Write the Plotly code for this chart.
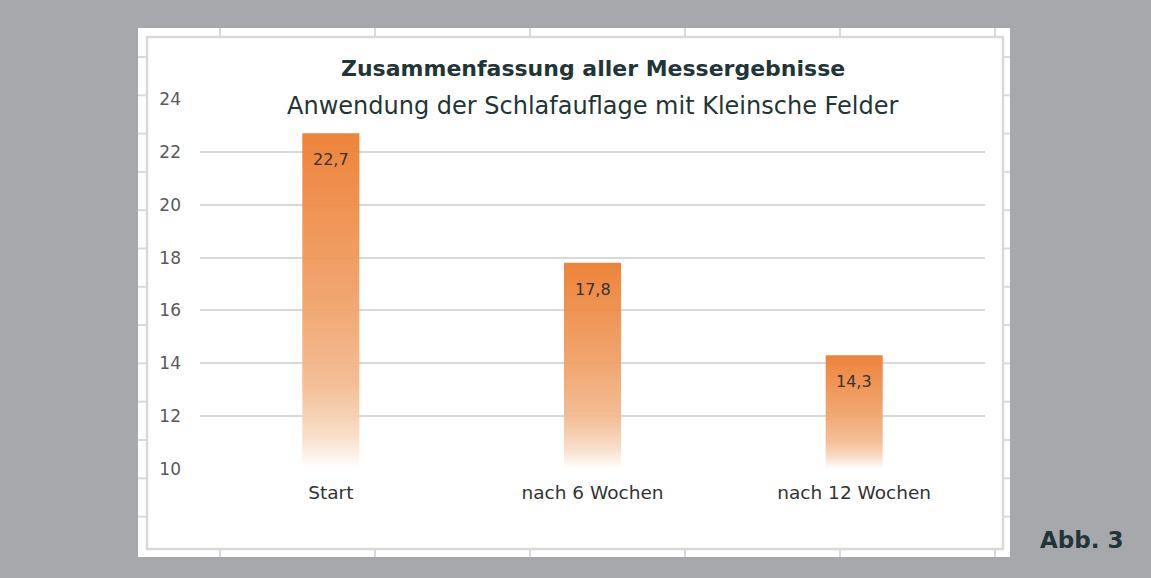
import plotly.graph_objects as go

categories = ["Start", "nach 6 Wochen", "nach 12 Wochen"]
values = [22.7, 17.8, 14.3]
value_labels = ["22,7", "17,8", "14,3"]
y_ticks = [10, 12, 14, 16, 18, 20, 22, 24]

W, H = 1151, 578
L, R, T, B = 200, 985, 99, 469  # plot area pixels
FONT = "DejaVu Sans"

def px(x):
    return (x - L) / (R - L)

def py(y):
    return (B - y) / (B - T)

fig = go.Figure()

half = 0.109
grad = [[0.0, "rgba(255,255,255,0.95)"], [0.1, "rgba(248,220,196,0.93)"],
        [0.25, "rgba(243,185,142,0.93)"], [0.5, "rgba(240,160,102,0.93)"],
        [1.0, "rgba(237,125,49,0.95)"]]
base = y_ticks[0]
for i, (c, v) in enumerate(zip(categories, values)):
    fig.add_trace(go.Scatter(
        x=[i - half, i + half, i + half, i - half, i - half],
        y=[base, base, v, v, base],
        mode="none", fill="toself",
        fillgradient=dict(type="vertical", colorscale=grad),
        hoverinfo="skip", showlegend=False))
    fig.add_annotation(x=i, y=v, text=value_labels[i], showarrow=False,
                       yanchor="top", yshift=-15,
                       font=dict(family=FONT, size=16, color="#333333"))

shapes = []
# white panel
shapes.append(dict(type="rect", xref="paper", yref="paper", layer="below",
                   x0=px(138), x1=px(1010), y0=py(557), y1=py(28),
                   fillcolor="white", line=dict(width=0)))
cell = "#dadada"
# spreadsheet cell lines in margins
for xv in [220, 375, 530, 685, 840, 995]:
    shapes.append(dict(type="line", xref="paper", yref="paper", layer="below",
                       x0=px(xv), x1=px(xv), y0=py(28), y1=py(37),
                       line=dict(color=cell, width=2)))
    shapes.append(dict(type="line", xref="paper", yref="paper", layer="below",
                       x0=px(xv), x1=px(xv), y0=py(549), y1=py(557),
                       line=dict(color=cell, width=2)))
k = 0
while 57 + 38.3 * k < 549:
    yv = 57 + 38.3 * k
    shapes.append(dict(type="line", xref="paper", yref="paper", layer="below",
                       x0=px(138), x1=px(147), y0=py(yv), y1=py(yv),
                       line=dict(color=cell, width=2)))
    shapes.append(dict(type="line", xref="paper", yref="paper", layer="below",
                       x0=px(1003), x1=px(1010), y0=py(yv), y1=py(yv),
                       line=dict(color=cell, width=2)))
    k += 1
# chart frame
shapes.append(dict(type="rect", xref="paper", yref="paper", layer="below",
                   x0=px(147), x1=px(1003), y0=py(549), y1=py(37),
                   line=dict(color="#d9d9d9", width=2.5), fillcolor="rgba(0,0,0,0)"))
# title box covering top gridline
shapes.append(dict(type="rect", xref="paper", yref="paper", layer="above",
                   x0=px(203), x1=px(986), y0=py(114), y1=py(86),
                   fillcolor="white", line=dict(width=0)))
fig.update_layout(shapes=shapes)

fig.add_annotation(xref="paper", yref="paper", x=0.5, y=py(69),
                   text="<b>Zusammenfassung aller Messergebnisse</b>",
                   showarrow=False, xanchor="center", yanchor="middle",
                   font=dict(family=FONT, size=22, color="#1f3538"))
fig.add_annotation(xref="paper", yref="paper", x=0.5, y=py(106),
                   text="Anwendung der Schlafauflage mit Kleinsche Felder",
                   showarrow=False, xanchor="center", yanchor="middle",
                   font=dict(family=FONT, size=24, color="#1f3538"))
fig.add_annotation(xref="paper", yref="paper", x=px(1081), y=py(540),
                   text="<b>Abb. 3</b>", showarrow=False,
                   xanchor="center", yanchor="middle",
                   font=dict(family=FONT, size=23, color="#1f3538"))

fig.update_xaxes(range=[-0.5, 2.5], tickvals=[0, 1, 2], ticktext=categories,
                 showgrid=False, zeroline=False, showline=False, ticks="",
                 tickfont=dict(family=FONT, size=18.5, color="#333333"),
                 ticklabelstandoff=10, fixedrange=True)
fig.update_yaxes(range=[y_ticks[0], y_ticks[-1]], tickvals=y_ticks,
                 showgrid=True, gridcolor="#d9d9d9", gridwidth=1.5,
                 zeroline=False, showline=False, ticks="",
                 tickfont=dict(family=FONT, size=17, color="#595959"),
                 ticklabelstandoff=18, fixedrange=True)

fig.update_layout(width=W, height=H,
                  margin=dict(l=L, r=W - R, t=T, b=H - B, pad=0),
                  paper_bgcolor="#a7a8ab", plot_bgcolor="rgba(0,0,0,0)",
                  showlegend=False)

fig.write_html("out.html", config={"displayModeBar": False},
               post_script="document.body.style.margin='0px';document.body.style.overflow='hidden';")
